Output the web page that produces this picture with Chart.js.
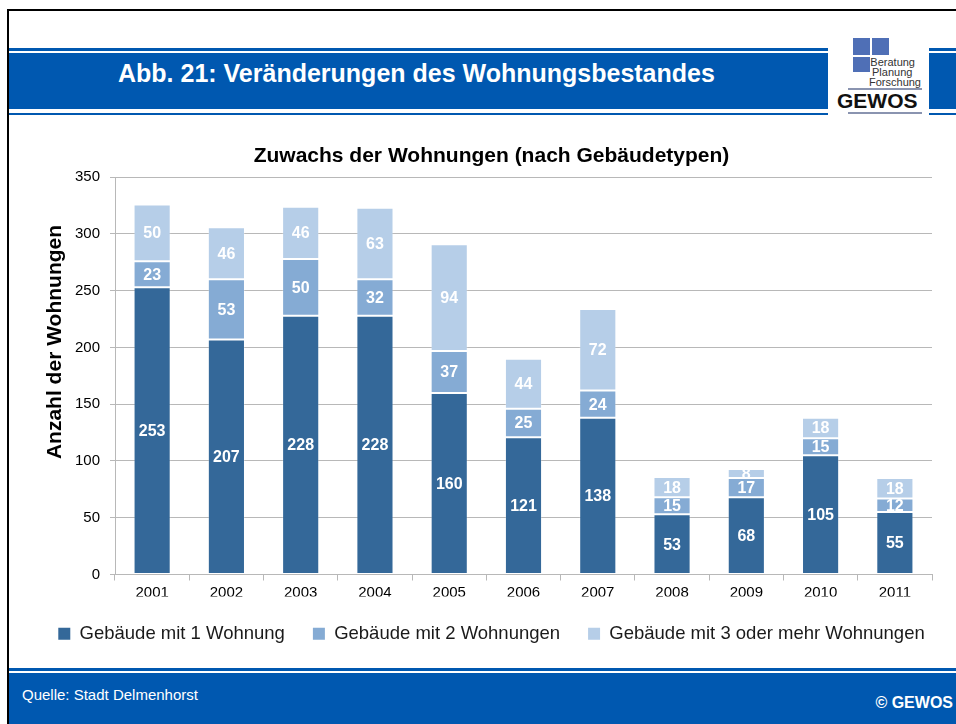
<!DOCTYPE html>
<html lang="de">
<head>
<meta charset="utf-8">
<title>Abb. 21: Veränderungen des Wohnungsbestandes</title>
<script src="https://cdn.jsdelivr.net/npm/chart.js@4.4.1/dist/chart.umd.min.js"></script>
<style>
  html, body { margin: 0; padding: 0; background: #fff; }
  body {
    width: 956px; height: 724px; position: relative; overflow: hidden;
    font-family: "Liberation Sans", Arial, sans-serif;
  }
  .abs { position: absolute; }
  .black { background: #000; }
  .blue { background: #0058b0; }
  .logo-sq { position: absolute; background: #4f6fb6; }
  .logo-txt { position: absolute; font-size: 11px; color: #333; line-height: 10px; }
  .logo-line { position: absolute; background: #8a94b0; height: 2px; }
  #chartBox { position: absolute; left: 0; top: 120px; width: 956px; height: 545px; }
</style>
</head>
<body>

<!-- Rahmen -->
<div class="abs black" style="left:7px; top:9px; width:949px; height:2px;"></div>
<div class="abs black" style="left:7px; top:9px; width:2px; height:715px;"></div>

<!-- Kopfbalken -->
<div class="abs blue" style="left:9px; top:48px; width:819px; height:3px;"></div>
<div class="abs blue" style="left:9px; top:53px; width:819px; height:56px;"></div>
<div class="abs blue" style="left:9px; top:113px; width:819px; height:2px;"></div>
<div class="abs blue" style="left:929px; top:48px; width:27px; height:3px;"></div>
<div class="abs blue" style="left:929px; top:53px; width:27px; height:56px;"></div>
<div class="abs blue" style="left:929px; top:113px; width:27px; height:2px;"></div>
<div class="abs" style="left:118px; top:58px; color:#fff; font-weight:bold; font-size:25px; line-height:30px;">Abb. 21: Veränderungen des Wohnungsbestandes</div>

<!-- Logo -->
<div class="logo-sq" style="left:853px; top:38px; width:17px; height:17px;"></div>
<div class="logo-sq" style="left:872px; top:38px; width:17px; height:17px;"></div>
<div class="logo-sq" style="left:853px; top:57px; width:17px; height:15px;"></div>
<div class="logo-txt" style="right:41px; top:57px;">Beratung</div>
<div class="logo-txt" style="left:872px; top:67px;">Planung</div>
<div class="logo-txt" style="right:35px; top:77px;">Forschung</div>
<div class="logo-line" style="left:848px; top:88px; width:74px;"></div>
<div class="abs" style="left:837px; top:90px; font-weight:bold; font-size:21px; line-height:22px; color:#111;">GEWOS</div>
<div class="logo-line" style="left:848px; top:112px; width:74px;"></div>

<!-- Diagramm -->
<div id="chartBox"><canvas id="chart"></canvas></div>

<!-- Fussbalken -->
<div class="abs blue" style="left:9px; top:668px; width:947px; height:3px;"></div>
<div class="abs blue" style="left:9px; top:673px; width:947px; height:51px;"></div>
<div class="abs" style="left:22px; top:686px; color:#fff; font-size:15px; line-height:18px;">Quelle: Stadt Delmenhorst</div>
<div class="abs" style="right:3px; top:694px; color:#fff; font-weight:bold; font-size:16px; line-height:18px;">© GEWOS</div>

<script>
// ===== DATEN =====
const years = ['2001', '2002', '2003', '2004', '2005', '2006', '2007', '2008', '2009', '2010', '2011'];
const oneFlat = [253, 207, 228, 228, 160, 121, 138, 53, 68, 105, 55];
const twoFlats = [23, 53, 50, 32, 37, 25, 24, 15, 17, 15, 12];
const threePlusFlats = [50, 46, 46, 63, 94, 44, 72, 18, 8, 18, 18];

const seriesNames = [
  'Gebäude mit 1 Wohnung',
  'Gebäude mit 2 Wohnungen',
  'Gebäude mit 3 oder mehr Wohnungen'
];
const seriesColors = ['#346899', '#85abd4', '#b6cee8'];

const chartTitle = 'Zuwachs der Wohnungen (nach Gebäudetypen)';
const yTitle = 'Anzahl der Wohnungen';
const yMax = 350;
const yStep = 50;

const FONT = '"Liberation Sans", Arial, sans-serif';

// ===== PLUGINS =====
// Werte weiss in die Mitte jedes Balkenabschnitts
const barLabelPlugin = {
  id: 'barLabels',
  afterDatasetsDraw: function(chart) {
    const ctx = chart.ctx;
    ctx.save();
    ctx.font = 'bold 16px ' + FONT;
    ctx.fillStyle = '#ffffff';
    ctx.textAlign = 'center';
    ctx.textBaseline = 'middle';
    chart.data.datasets.forEach(function(ds, i) {
      const meta = chart.getDatasetMeta(i);
      meta.data.forEach(function(bar, j) {
        ctx.fillText(String(ds.data[j]), bar.x, (bar.y + bar.base) / 2 + 1);
      });
    });
    ctx.restore();
  }
};

// Achsentitel links, etwas oberhalb der Mitte wie im Original
const yTitlePlugin = {
  id: 'yTitle',
  afterDraw: function(chart) {
    const ctx = chart.ctx;
    ctx.save();
    ctx.translate(61, 222);
    ctx.rotate(-Math.PI / 2);
    ctx.font = 'bold 21px ' + FONT;
    ctx.fillStyle = '#000';
    ctx.textAlign = 'center';
    ctx.textBaseline = 'alphabetic';
    ctx.fillText(yTitle, 0, 0);
    ctx.restore();
  }
};

// ===== DIAGRAMM =====
function makeDataset(label, values, color) {
  return {
    label: label,
    data: values,
    backgroundColor: color,
    borderColor: 'rgba(255,255,255,0.22)',
    borderWidth: 1,
    borderSkipped: false,
    barPercentage: 0.5,
    categoryPercentage: 1.0
  };
}

const gridColor = '#b8b8b8';

new Chart(document.getElementById('chart'), {
  type: 'bar',
  data: {
    labels: years,
    datasets: [
      makeDataset(seriesNames[0], oneFlat, seriesColors[0]),
      makeDataset(seriesNames[1], twoFlats, seriesColors[1]),
      makeDataset(seriesNames[2], threePlusFlats, seriesColors[2])
    ]
  },
  options: {
    responsive: true,
    maintainAspectRatio: false,
    animation: false,
    layout: { padding: { left: 27, right: 0, top: 20, bottom: 12 } },
    plugins: {
      title: {
        display: true,
        text: chartTitle,
        color: '#000',
        font: { family: FONT, size: 21, weight: 'bold' },
        padding: { top: 4, bottom: 8 }
      },
      legend: {
        position: 'bottom',
        labels: {
          color: '#1a1a1a',
          font: { family: FONT, size: 18.5 },
          boxWidth: 12,
          boxHeight: 12,
          padding: 28,
          generateLabels: function(chart) {
            const items = Chart.defaults.plugins.legend.labels.generateLabels(chart);
            items.forEach(function(item) { item.lineWidth = 0; });
            return items;
          }
        }
      },
      tooltip: { enabled: false }
    },
    scales: {
      x: {
        stacked: true,
        grid: { display: true, drawOnChartArea: false, drawTicks: true, tickLength: 6, color: gridColor },
        border: { color: gridColor },
        ticks: { color: '#000', font: { family: FONT, size: 15 }, padding: 3 },
        afterFit: function(scale) { scale.height = 22; }
      },
      y: {
        stacked: true,
        min: 0,
        max: yMax,
        grid: { color: gridColor, tickLength: 5 },
        border: { color: gridColor },
        ticks: { stepSize: yStep, color: '#000', font: { family: FONT, size: 15 }, padding: 10 },
        afterFit: function(scale) { scale.width = 88; }
      },
      // leere Achse rechts, haelt nur den Rand zwischen Diagramm und Bildkante frei
      yRight: {
        type: 'linear',
        axis: 'y',
        position: 'right',
        grid: { display: false },
        border: { display: false },
        ticks: { display: false },
        afterFit: function(scale) { scale.width = 24; }
      }
    }
  },
  plugins: [barLabelPlugin, yTitlePlugin]
});
</script>
</body>
</html>
